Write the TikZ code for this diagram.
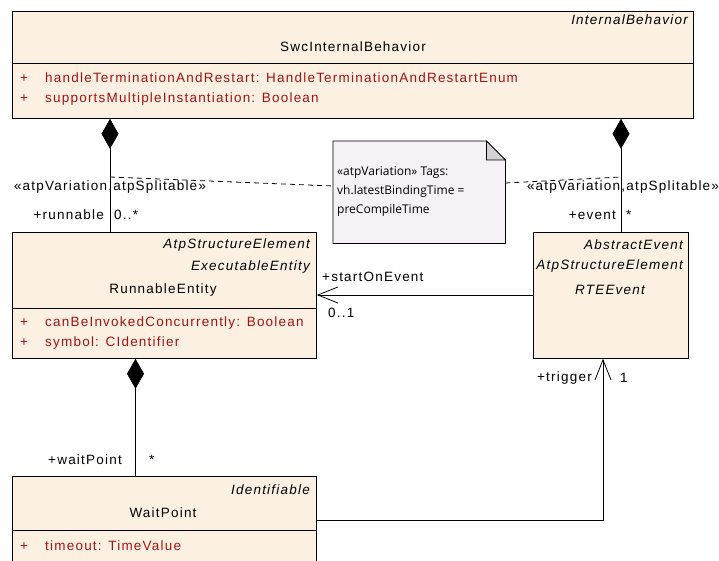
\documentclass[tikz,border=0pt]{standalone}
\usepackage{fontspec}
\setmainfont[LetterSpace=9]{Liberation Sans}
\newfontfamily\notefont{Open Sans}
\usetikzlibrary{arrows.meta, calc, positioning}
\definecolor{umlFill}{HTML}{FBF0E2}
\definecolor{umlNote}{HTML}{F6F1F6}
\definecolor{umlAttr}{HTML}{A01414}
\definecolor{umlFold}{HTML}{D4D0D4}
\newcommand{\umlfont}{\fontsize{13.5}{16}\selectfont}
\newcommand{\attrrow}[1]{\makebox[25pt][l]{+}#1}
\tikzset{
  umlclass/.style={draw, fill=umlFill, line width=0.8pt, anchor=north west, inner sep=0pt},
  stereo/.style={font=\umlfont\itshape, anchor=east, inner sep=0pt},
  clsname/.style={font=\umlfont, inner sep=0pt},
  attr/.style={font=\umlfont, text=umlAttr, anchor=west, inner sep=0pt},
  role/.style={font=\umlfont, inner sep=0pt},
  sepline/.style={line width=0.8pt},
  compo/.style={line width=0.8pt, {Diamond[length=30pt, width=17pt]}-},
  assoc/.style={line width=0.8pt, -{Straight Barb[length=20pt, width=16pt, line width=0.8pt]}},
  noteline/.style={line width=0.8pt, dash pattern=on 5pt off 4pt},
  notebox/.style={anchor=north west, inner sep=0pt, minimum width=172pt, minimum height=102pt},
  notetext/.style={font=\notefont\fontsize{12}{19}\selectfont, align=left, anchor=north west, inner sep=0pt}
}

\begin{document}
\begin{tikzpicture}[x=1pt, y=-1pt]
  \useasboundingbox (0,0) rectangle (719,561);
  \clip (0,0) rectangle (719,561);

  % classes
  \node[umlclass, minimum width=681pt, minimum height=107pt] (swc) at (12,11) {};
  \draw[sepline] ($(swc.north west)+(0,52)$) -- ($(swc.north east)+(0,52)$);
  \node[stereo] (swcst) at (688,20) {InternalBehavior};
  \node[clsname] (swcname) at (353,47) {SwcInternalBehavior};
  \node[attr] (swca1) at (20,78) {\attrrow{handleTerminationAndRestart: HandleTerminationAndRestartEnum}};
  \node[attr] (swca2) at (20,99) {\attrrow{supportsMultipleInstantiation: Boolean}};

  \node[umlclass, minimum width=304pt, minimum height=126pt] (run) at (12,232) {};
  \draw[sepline] ($(run.north west)+(0,76)$) -- ($(run.north east)+(0,76)$);
  \node[stereo] (runst1) at (310,245) {AtpStructureElement};
  \node[stereo] (runst2) at (310,267) {ExecutableEntity};
  \node[clsname] (runname) at (163,290) {RunnableEntity};
  \node[attr] (runa1) at (20,323) {\attrrow{canBeInvokedConcurrently: Boolean}};
  \node[attr] (runa2) at (20,343) {\attrrow{symbol: CIdentifier}};

  \node[umlclass, minimum width=155pt, minimum height=126pt] (rte) at (533,232) {};
  \node[stereo] (rtest1) at (683,245) {AbstractEvent};
  \node[stereo] (rtest2) at (683,266) {AtpStructureElement};
  \node[clsname, font=\umlfont\itshape] (rtename) at (610,290) {RTEEvent};

  \node[umlclass, minimum width=304pt, minimum height=90pt] (wp) at (12,476) {};
  \draw[sepline] ($(wp.north west)+(0,54)$) -- ($(wp.north east)+(0,54)$);
  \node[stereo] (wpst) at (310,490) {Identifiable};
  \node[clsname] (wpname) at (163,513) {WaitPoint};
  \node[attr] (wpa1) at (20,546) {\attrrow{timeout: TimeValue}};

  % note
  \node[notebox] (note) at (333,141) {};
  \draw[line width=0.8pt, fill=umlNote] (note.north west) -- ($(note.north east)+(-19,0)$)
    -- ($(note.north east)+(0,19)$) -- (note.south east) -- (note.south west) -- cycle;
  \draw[line width=0.8pt, fill=umlFold] ($(note.north east)+(-19,0)$) -- ($(note.north east)+(-19,19)$)
    -- ($(note.north east)+(0,19)$) -- cycle;
  \node[notetext] (notetxt) at (337,166) {«atpVariation» Tags:\\vh.latestBindingTime =\\preCompileTime};

  % compositions
  \draw[compo] ($(swc.south west)+(98,0)$) -- ($(run.north west)+(98,0)$);
  \draw[compo] ($(swc.south west)+(609,0)$) -- ($(rte.north west)+(88,0)$);
  \draw[compo] ($(run.south west)+(123.5,0)$) -- ($(wp.north west)+(123.5,0)$);
  \coordinate (lv) at ($(run.north west)+(98,-55)$);
  \coordinate (rv) at ($(rte.north west)+(88,-55)$);
  \draw[noteline] (lv) -- ($(note.north west)+(0,45)$);
  \draw[noteline] ($(note.north east)+(0,42)$) -- (rv);

  % associations
  \draw[assoc] ($(rte.north west)+(0,63)$) -- ($(run.north east)+(0,63)$);
  \draw[assoc] ($(wp.north east)+(0,44)$) -| ($(rte.south west)+(70,0)$);

  % role labels
  \node[role] (lsplit) at (110,187) {«atpVariation,atpSplitable»};
  \node[role, anchor=east] (lrole) at (104,215) {+runnable};
  \node[role, anchor=west] (lmult) at (114,215) {0..*};
  \node[role] (rsplit) at (623,187) {«atpVariation,atpSplitable»};
  \node[role, anchor=east] (rrole) at (616,215) {+event};
  \node[role, anchor=west] (rmult) at (626,215) {*};
  \node[role, anchor=west] (srole) at (322,277) {+startOnEvent};
  \node[role, anchor=west] (smult) at (328,313) {0..1};
  \node[role, anchor=east] (wrole) at (122,460) {+waitPoint};
  \node[role, anchor=west] (wmult) at (149,460) {*};
  \node[role, anchor=east] (trole) at (592,378) {+trigger};
  \node[role, anchor=west] (tmult) at (620,378) {1};
\end{tikzpicture}
\end{document}
